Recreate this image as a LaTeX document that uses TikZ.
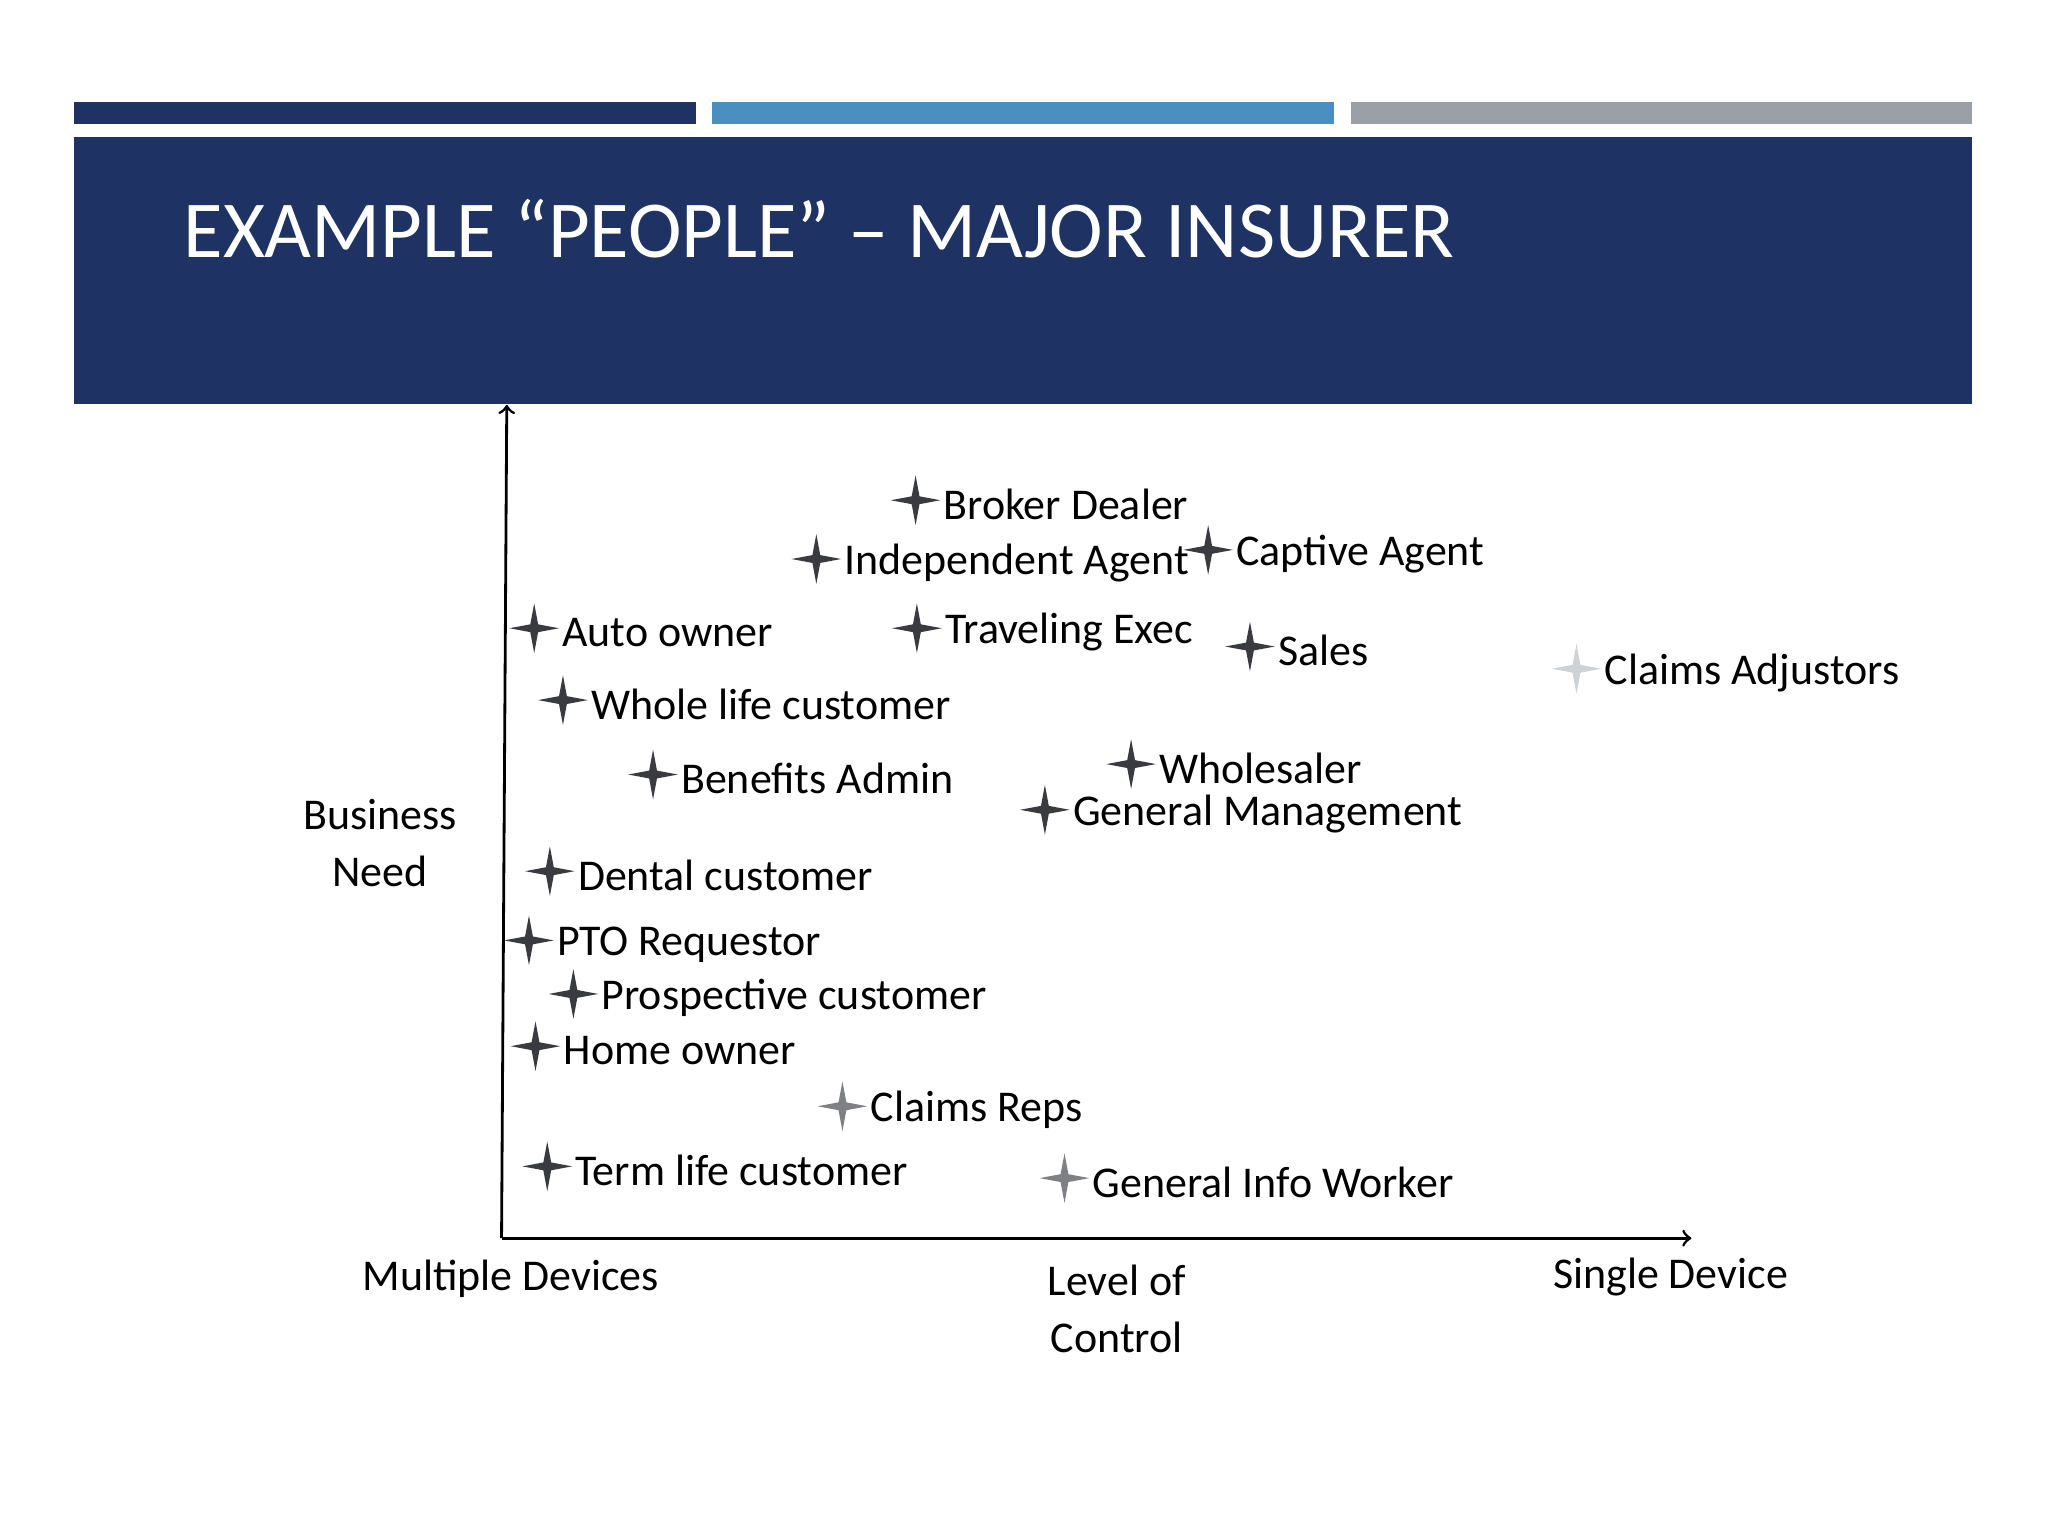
\documentclass[tikz,border=0pt]{standalone}
\usepackage{fontspec}
\setmainfont{Carlito}
\definecolor{navy}{HTML}{1E3263}
\definecolor{barblue}{HTML}{4A8FC0}
\definecolor{bargray}{HTML}{9AA0A6}
\definecolor{sdark}{HTML}{3A3B40}
\definecolor{smid}{HTML}{7F8084}
\definecolor{slight}{HTML}{CDD2D6}
\begin{document}
\begin{tikzpicture}[x=0.013061cm,y=-0.013061cm,
  lbl/.style={anchor=west,font=\fontsize{12.5}{14}\selectfont,text=black,inner sep=0pt},
  ax/.style={font=\fontsize{12.5}{14}\selectfont,inner sep=0pt},
  star/.pic={\fill[pic actions] (-19,0)--(-3,-3)--(0,-19)--(3,-3)--(19,0)--(3,3)--(0,19)--(-3,3)--cycle;}]
\useasboundingbox (0,0) rectangle (1568,1176);
\fill[white] (0,0) rectangle (1568,1176);
\fill[navy] (57,78) rectangle (533,95);
\fill[barblue] (545,78) rectangle (1021,95);
\fill[bargray] (1034,78) rectangle (1510,95);
\fill[navy] (57,105) rectangle (1510,309);
\node[anchor=base west,text=white,inner sep=0pt,font=\fontsize{23}{26}\selectfont] (title) at (140,197) {EXAMPLE “PEOPLE” – MAJOR INSURER};
\coordinate (o) at (384,948);
\coordinate (yt) at (388,310);
\coordinate (xt) at (1295,948);
\draw[->,thick] (o) -- (yt);
\draw[->,thick] (o) -- (xt);
\foreach \x/\y/\c/\t/\n in {
701/383/sdark/Broker Dealer/a,
625/428/sdark/Independent Agent/b,
925/421/sdark/Captive Agent/c,
409/481/sdark/Auto owner/d,
702/481/sdark/Traveling Exec/e,
957/495/sdark/Sales/f,
1207/512/slight/Claims Adjustors/g,
431/536/sdark/Whole life customer/h,
500/593/sdark/Benefits Admin/i,
866/585/sdark/Wholesaler/j,
800/620/sdark/General Management/k,
421/667/sdark/Dental customer/l,
405/720/sdark/PTO Requestor/m,
439/761/sdark/Prospective customer/n,
410/801/sdark/Home owner/p,
645/847/smid/Claims Reps/q,
419/893/sdark/Term life customer/r,
815/902/smid/General Info Worker/s}{
  \pic[fill=\c] at (\x,\y) {star};
  \node[lbl] (t\n) at (\x+21,\y+3) {\t};
}
\node[ax] (bn1) at (291,624) {Business};
\node[ax] (bn2) at (291,667) {Need};
\node[ax] (md) at (391,979) {Multiple Devices};
\node[ax] (lc1) at (855,980) {Level of};
\node[ax] (lc2) at (855,1024) {Control};
\node[ax] (sd) at (1279,978) {Single Device};
\end{tikzpicture}
\end{document}
